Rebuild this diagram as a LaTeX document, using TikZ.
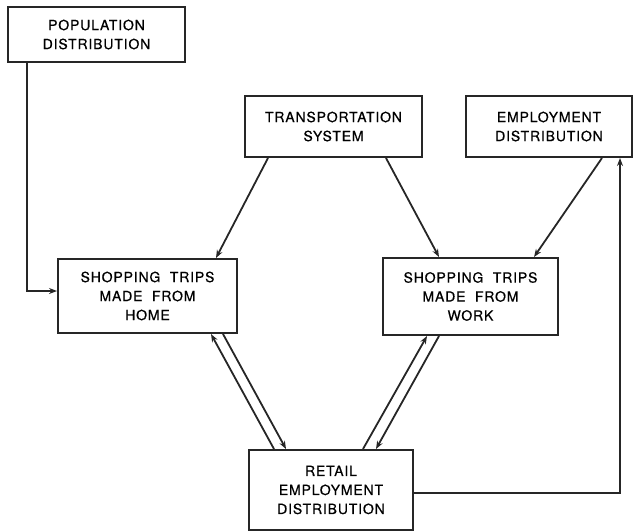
\documentclass[tikz,border=0pt]{standalone}
\usepackage{fontspec}
\setmainfont{TeX Gyre Heros}[LetterSpace=6,FakeBold=0.6]
\usetikzlibrary{arrows.meta}
\begin{document}
\begin{tikzpicture}[x=1pt,y=-1pt,
  box/.style={draw=black!85,line width=2pt,align=center,inner sep=0pt,
    font=\fontsize{14}{19}\selectfont},
  conn/.style={draw=black!85,line width=1.8pt,-{Stealth[length=8pt,width=6pt]}}]
\useasboundingbox (0,0) rectangle (635,531);
\node[box,minimum width=177pt,minimum height=55pt] (pop) at (96.5,34.5) {POPULATION\\DISTRIBUTION};
\node[box,minimum width=177pt,minimum height=61pt] (trans) at (333.5,126.5) {TRANSPORTATION\\SYSTEM};
\node[box,minimum width=166pt,minimum height=61pt] (emp) at (549,126.5) {EMPLOYMENT\\DISTRIBUTION};
\node[box,minimum width=179pt,minimum height=74pt] (home) at (147.5,296) {SHOPPING\ \ TRIPS\\MADE\ \ FROM\\HOME};
\node[box,minimum width=175pt,minimum height=77pt] (work) at (470.5,296.5) {SHOPPING\ \ TRIPS\\MADE\ \ FROM\\WORK};
\node[box,minimum width=164pt,minimum height=80pt] (retail) at (331,490) {RETAIL\\EMPLOYMENT\\DISTRIBUTION};

\draw[conn] ([xshift=20pt]pop.south west) |- ([yshift=5pt]home.west);
\draw[conn] ([xshift=24pt]trans.south west) -- ([xshift=-22pt]home.north east);
\draw[conn] ([xshift=-37pt]trans.south east) -- ([xshift=57pt]work.north west);
\draw[conn] ([xshift=137pt]emp.south west) -- ([xshift=-25pt]work.north east);
\draw[conn] ([yshift=-3pt]retail.east) -| ([xshift=-13pt]emp.south east);
\draw[conn] ([xshift=26pt]retail.north west) -- ([xshift=-27pt]home.south east);
\draw[conn] ([xshift=-15pt]home.south east) -- ([xshift=38pt]retail.north west);
\draw[conn] ([xshift=-51pt]retail.north east) -- ([xshift=45pt]work.south west);
\draw[conn] ([xshift=57pt]work.south west) -- ([xshift=-38pt]retail.north east);
\end{tikzpicture}
\end{document}
